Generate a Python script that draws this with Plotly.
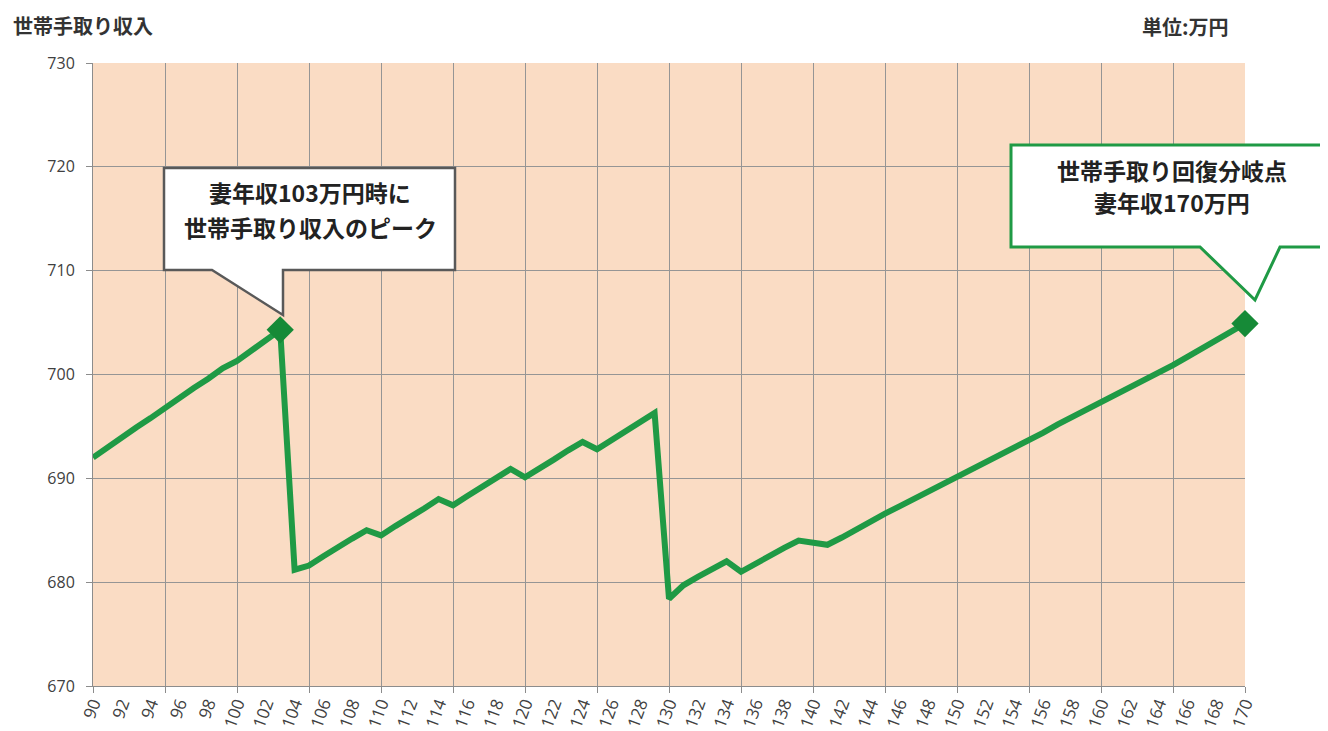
import plotly.graph_objects as go

# Wife's annual income (万円)
wife_income = list(range(90, 171))
# Household take-home income (万円)
household_income = [
    692.0, 693.0, 693.9, 694.9, 695.8, 696.8, 697.7, 698.7, 699.6, 700.6,  # 90-99
    701.3, 702.3, 703.3, 704.3,                                            # 100-103
    681.2, 681.6, 682.5, 683.4, 684.2, 685.0,                              # 104-109
    684.5, 685.4, 686.2, 687.1, 688.0,                                     # 110-114
    687.4, 688.3, 689.2, 690.0, 690.9,                                     # 115-119
    690.1, 690.9, 691.8, 692.7, 693.5,                                     # 120-124
    692.8, 693.7, 694.6, 695.4, 696.3,                                     # 125-129
    678.4, 679.7, 680.5, 681.2, 682.0,                                     # 130-134
    681.0, 681.8, 682.6, 683.3, 684.0,                                     # 135-139
    683.8, 683.6, 684.3, 685.1, 685.9,                                     # 140-144
    686.6, 687.3, 688.0, 688.7, 689.4,                                     # 145-149
    690.1, 690.8, 691.5, 692.3, 693.0,                                     # 150-154
    693.7, 694.4, 695.2, 695.9, 696.7,                                     # 155-159
    697.4, 698.1, 698.8, 699.5, 700.2,                                     # 160-164
    700.9, 701.7, 702.5, 703.3, 704.1,                                     # 165-169
    704.9,                                                                 # 170
]
highlight_x = [103, 170]
highlight_y = [household_income[wife_income.index(v)] for v in highlight_x]

x_tick_vals = list(range(90, 171, 2))
x_tick_text = [str(v) for v in x_tick_vals]
y_tick_vals = [670, 680, 690, 700, 710, 720, 730]

callout1_lines = ["妻年収103万円時に", "世帯手取り収入のピーク"]
callout2_lines = ["世帯手取り回復分岐点", "妻年収170万円"]

FONT = "Noto Sans CJK JP"
OFF = 8  # page body margin
W, H = 1328 - OFF, 731 - OFF
L, T = 93 - OFF, 63 - OFF
PW, PH = 1152, 623
R, B = W - L - PW, H - T - PH


def px(x):  # reference-image pixel -> paper
    return (x - OFF - L) / PW


def py(y):
    return (T + PH - (y - OFF)) / PH


fig = go.Figure()
fig.add_trace(go.Scatter(
    x=wife_income, y=household_income, mode="lines",
    line=dict(color="#1f9a45", width=6),
    showlegend=False, cliponaxis=False, xaxis="x",
))
fig.add_trace(go.Scatter(
    x=highlight_x, y=highlight_y, mode="markers",
    marker=dict(symbol="diamond", size=21, color="#168a37"),
    showlegend=False, cliponaxis=False, xaxis="x2",
))


def callout(x0, y0, x1, y1, tl, tr, apex):
    return (f"M {px(x0)},{py(y0)} L {px(x1)},{py(y0)} L {px(x1)},{py(y1)} "
            f"L {px(tr)},{py(y1)} L {px(apex[0])},{py(apex[1])} "
            f"L {px(tl)},{py(y1)} L {px(x0)},{py(y1)} Z")


shapes = [
    dict(type="path", xref="paper", yref="paper",
         path=callout(164, 168, 455, 270, 212, 283, (283, 315)),
         fillcolor="white", line=dict(color="#595959", width=2.5), layer="above"),
    dict(type="path", xref="paper", yref="paper",
         path=callout(1011, 145, 1340, 247, 1200, 1280, (1255, 300)),
         fillcolor="white", line=dict(color="#1f9a45", width=3), layer="above"),
]

bold = dict(family=FONT, size=23, color="#222222", weight="bold")
annotations = []
for text, (cx, cy) in zip(callout1_lines, [(310, 192), (310, 227)]):
    annotations.append(dict(text=text, xref="paper", yref="paper", x=px(cx), y=py(cy),
                            xanchor="center", yanchor="middle", showarrow=False, font=bold))
for text, (cx, cy) in zip(callout2_lines, [(1172, 170), (1172, 202)]):
    annotations.append(dict(text=text, xref="paper", yref="paper", x=px(cx), y=py(cy),
                            xanchor="center", yanchor="middle", showarrow=False, font=bold))
annotations += [
    dict(text="世帯手取り収入", xref="paper", yref="paper", x=px(11), y=py(25),
         xanchor="left", yanchor="middle", showarrow=False,
         font=dict(family=FONT, size=20, color="#333333", weight="bold")),
    dict(text="単位:万円", xref="paper", yref="paper", x=px(1231), y=py(27),
         xanchor="right", yanchor="middle", showarrow=False,
         font=dict(family=FONT, size=20, color="#333333", weight="bold")),
]

fig.update_layout(
    width=W, height=H,
    margin=dict(l=L, r=R, t=T, b=B, autoexpand=False),
    paper_bgcolor="white",
    plot_bgcolor="#fadcc4",
    shapes=shapes,
    annotations=annotations,
    xaxis=dict(
        range=[90, 170], tickmode="array", tickvals=x_tick_vals, ticktext=x_tick_text,
        tickangle=-70, showgrid=False, zeroline=False, ticks="",
        showline=True, linecolor="#8c8c8c", linewidth=1,
        tickfont=dict(family="Open Sans", size=17, color="#404040"),
        automargin=False,
    ),
    xaxis2=dict(
        overlaying="x", anchor="y", side="bottom", range=[90, 170],
        tickmode="linear", tick0=90, dtick=5, showgrid=True, gridcolor="#959595",
        gridwidth=1, zeroline=False, ticks="outside", ticklen=6, tickcolor="#8c8c8c",
        showticklabels=False, automargin=False,
    ),
    yaxis=dict(
        range=[670, 730], tickmode="array", tickvals=y_tick_vals,
        showgrid=True, gridcolor="#959595", gridwidth=1, zeroline=False,
        ticks="outside", ticklen=6, tickcolor="#8c8c8c",
        showline=True, linecolor="#8c8c8c", linewidth=1,
        tickfont=dict(family="Open Sans", size=16, color="#404040"),
        ticklabelstandoff=8,
        automargin=False,
    ),
)

fig.write_html("out.html")
